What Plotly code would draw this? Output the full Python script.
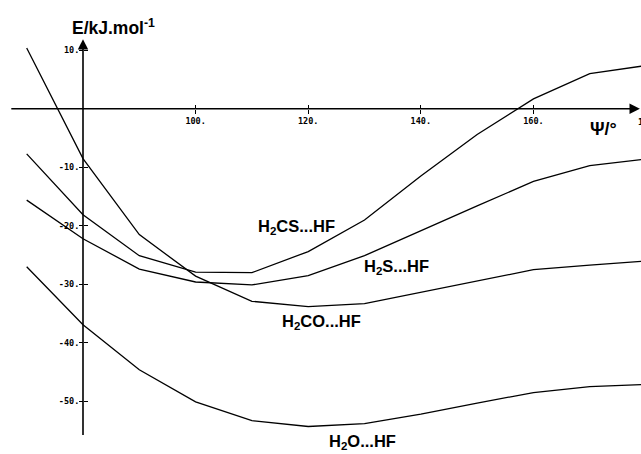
import plotly.graph_objects as go

# ---- data ----
psi = [70, 80, 90, 100, 110, 120, 130, 140, 150, 160, 170, 180]
h2cs = [-7.7, -18.1, -25.1, -27.9, -28.0, -24.4, -19.0, -11.5, -4.4, 1.7, 6.0, 7.4]
h2s = [-15.6, -22.2, -27.4, -29.6, -30.1, -28.5, -25.1, -20.8, -16.6, -12.4, -9.7, -8.6]
h2co = [10.4, -8.5, -21.5, -28.6, -32.9, -33.8, -33.3, -31.4, -29.4, -27.5, -26.7, -26.0]
h2o = [-27.0, -36.9, -44.6, -50.1, -53.3, -54.3, -53.8, -52.2, -50.3, -48.5, -47.5, -47.1]

x_ticks = [100, 120, 140, 160, 180]
x_ticklabels = ["100.", "120.", "140.", "160.", "180."]
y_ticks = [10, -10, -20, -30, -40, -50]
y_ticklabels = ["10.", "-10.", "-20.", "-30.", "-40.", "-50."]

labels = [
    ("H<sub>2</sub>CS...HF", 118.0, -20.2),
    ("H<sub>2</sub>S...HF", 135.6, -27.0),
    ("H<sub>2</sub>CO...HF", 122.3, -36.4),
    ("H<sub>2</sub>O...HF", 129.7, -57.0),
]

# ---- layout constants ----
X_RANGE = [65.26, 179.1]
Y_RANGE = [-59.0, 18.6]
X_ORIGIN = 80
Y_ORIGIN = 0
xpos = (Y_ORIGIN - Y_RANGE[0]) / (Y_RANGE[1] - Y_RANGE[0])   # paper y of x-axis
ypos = (X_ORIGIN - X_RANGE[0]) / (X_RANGE[1] - X_RANGE[0])   # paper x of y-axis

fig = go.Figure()
line_style = dict(color="black", width=1.3)
for series in (h2cs, h2s, h2co, h2o):
    fig.add_trace(go.Scatter(x=psi, y=series, mode="lines", line=line_style,
                             showlegend=False, hoverinfo="skip"))
# empty trace to carry the overlaid tick axes
fig.add_trace(go.Scatter(x=[], y=[], xaxis="x2", yaxis="y2", showlegend=False))

tickfont = dict(family="DejaVu Sans Mono", size=8.5, color="black", weight="bold")

fig.update_layout(
    width=641, height=454,
    margin=dict(l=0, r=0, t=0, b=0),
    paper_bgcolor="white", plot_bgcolor="white",
    xaxis=dict(range=X_RANGE, anchor="free", position=xpos, showgrid=False,
               zeroline=False, showline=False, tickmode="array",
               tickvals=x_ticks, ticktext=x_ticklabels, ticks="outside",
               ticklen=4, tickwidth=1.3, tickcolor="black", tickfont=tickfont),
    yaxis=dict(range=Y_RANGE, anchor="free", position=ypos, showgrid=False,
               zeroline=False, showline=False, tickmode="array",
               tickvals=y_ticks, ticktext=y_ticklabels, ticks="outside",
               ticklen=4, tickwidth=1.3, tickcolor="black", tickfont=tickfont,
               ticklabelstandoff=-2),
    xaxis2=dict(range=X_RANGE, overlaying="x", anchor="free", position=xpos,
                side="top", showgrid=False, zeroline=False, showline=False,
                tickmode="array", tickvals=x_ticks, ticks="outside", ticklen=4,
                tickwidth=1.3, tickcolor="black", showticklabels=False),
    yaxis2=dict(range=Y_RANGE, overlaying="y", anchor="free", position=ypos,
                side="right", showgrid=False, zeroline=False, showline=False,
                tickmode="array", tickvals=y_ticks, ticks="outside", ticklen=4,
                tickwidth=1.3, tickcolor="black", showticklabels=False),
)

# axis lines with arrowheads
fig.add_annotation(x=178.9, y=0, ax=67.0, ay=0, xref="x", yref="y", axref="x", ayref="y",
                   text="", showarrow=True, arrowhead=2, arrowwidth=1.6, arrowsize=1.3,
                   arrowcolor="black")
fig.add_annotation(x=80, y=11.9, ax=80, ay=-56.0, xref="x", yref="y", axref="x", ayref="y",
                   text="", showarrow=True, arrowhead=2, arrowwidth=1.6, arrowsize=1.3,
                   arrowcolor="black")
# 180 tick label (partly outside the view)
x180_paper = (x_ticks[-1] - X_RANGE[0]) / (X_RANGE[1] - X_RANGE[0])
fig.add_annotation(x=x180_paper, xshift=-10, xanchor="left", y=0, yshift=-13,
                   text="<b>" + x_ticklabels[-1] + "</b>",
                   showarrow=False, font=tickfont, xref="paper", yref="y")

# axis titles
fig.add_annotation(x=85.5, y=14.0, text="<b>E/kJ.mol<sup>-1</sup></b>", showarrow=False,
                   font=dict(family="Liberation Sans", size=17.5, color="black"))
fig.add_annotation(x=172.4, y=-3.4, text="<b>Ψ/°</b>", showarrow=False,
                   font=dict(family="Liberation Sans", size=18, color="black"))

for txt, lx, ly in labels:
    fig.add_annotation(x=lx, y=ly, text="<b>" + txt + "</b>", showarrow=False,
                       font=dict(family="Liberation Sans", size=16.5, color="black"))

fig.write_html("out.html", post_script="document.body.style.margin='0';",
               config={"displayModeBar": False, "staticPlot": True})
